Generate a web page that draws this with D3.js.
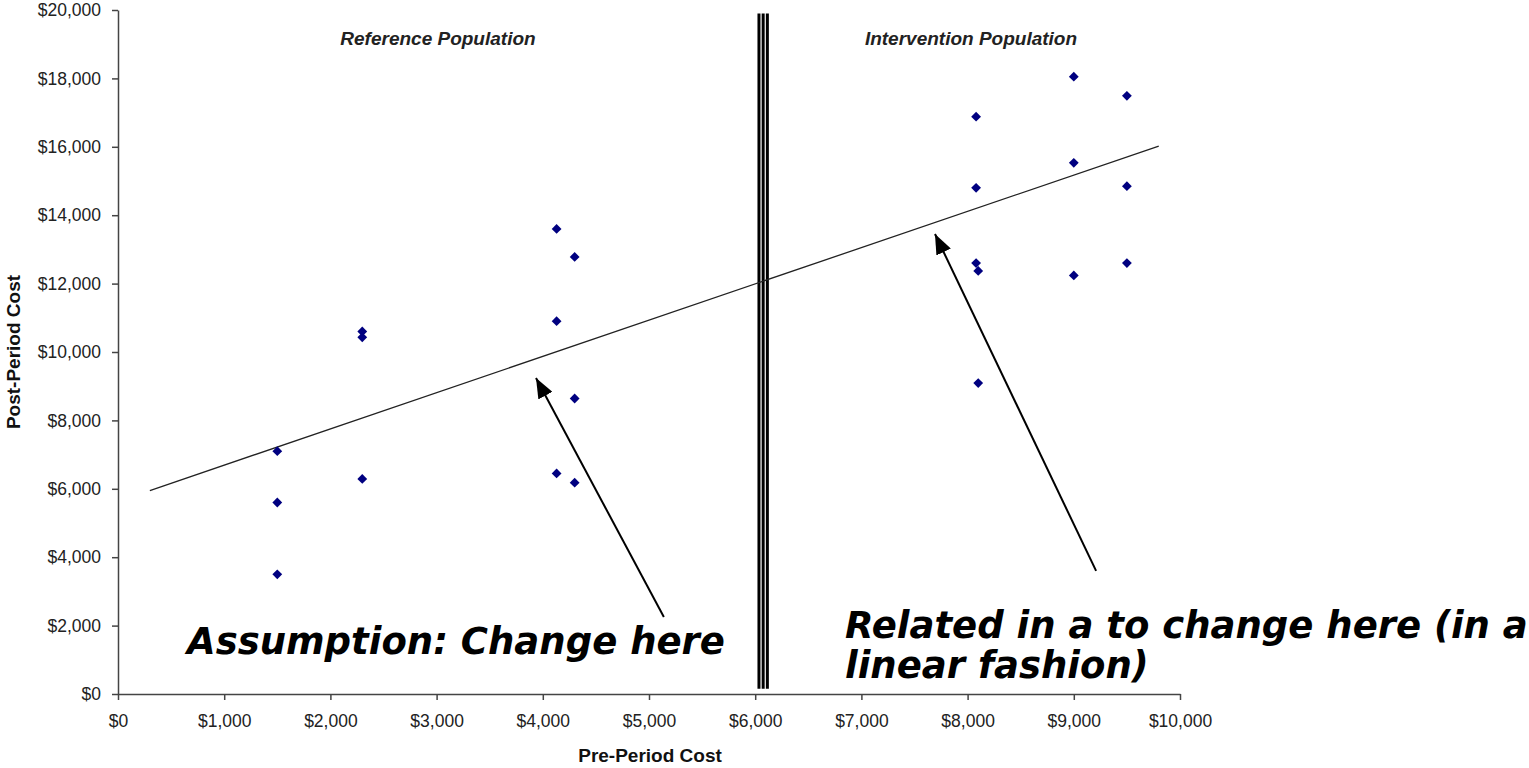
<!DOCTYPE html>
<html>
<head>
<meta charset="utf-8">
<script src="https://cdn.jsdelivr.net/npm/d3@7"></script>
<style>
  body { margin: 0; background: #fff; }
  .axis text { font-family: "Liberation Sans", Arial, sans-serif; font-size: 17.5px; fill: #222; }
  .axis path, .axis line { stroke: #444; stroke-width: 1.5px; }
</style>
</head>
<body>
<script>
// data //
const refPre  = [1500, 1500, 1500, 2300, 2300, 2300, 4130, 4130, 4130, 4300, 4300, 4300];
const refPost = [7100, 5600, 3500, 10600, 10430, 6290, 13600, 10900, 6450, 12780, 8640, 6180];

const intPre  = [8080, 8080, 8080, 8100, 8100, 9000, 9000, 9000, 9500, 9500, 9500];
const intPost = [16880, 14800, 12600, 12370, 9090, 18050, 15530, 12240, 17490, 14850, 12600];

const trendPre  = [300, 9800];
const trendPost = [5950, 16020];

const xTicks = [0, 1000, 2000, 3000, 4000, 5000, 6000, 7000, 8000, 9000, 10000];
const yTicks = [0, 2000, 4000, 6000, 8000, 10000, 12000, 14000, 16000, 18000, 20000];

const dividerPre = 6075;

const groupLabels = ["Reference Population", "Intervention Population"];
const groupLabelPre = [3013, 8032];

// arrows: [from pre, from post, to pre, to post]
const arrows = [
  [5140, 2250, 3936, 9240],
  [9210, 3600, 7693, 13450]
];

const width = 1529;
const height = 768;
const margin = { top: 10, right: 349, bottom: 74, left: 118 };

const x = d3.scaleLinear()
          .domain([0, 10000])
          .range([margin.left, width - margin.right]);

const y = d3.scaleLinear()
          .domain([0, 20000])
          .range([height - margin.bottom, margin.top]);

const svg = d3.select('body')
   .append('svg')
   .attr('width', width)
   .attr('height', height);

const money = d => '$' + d3.format(',')(d);

// axes
svg.append('g')
  .attr('class', 'axis')
  .attr('transform', 'translate(' + margin.left + ',0)')
  .call(d3.axisLeft(y).tickValues(yTicks).tickFormat(money).tickSize(6).tickSizeOuter(0).tickPadding(11));

svg.append('g')
  .attr('class', 'axis')
  .attr('transform', 'translate(0,' + (height - margin.bottom) + ')')
  .call(d3.axisBottom(x).tickValues(xTicks).tickFormat(money).tickSize(6).tickSizeOuter(0).tickPadding(15));

// axis titles
svg.append('text')
  .attr('x', 650)
  .attr('y', 762)
  .attr('text-anchor', 'middle')
  .style('font-family', '"Liberation Sans", Arial, sans-serif')
  .style('font-weight', 'bold')
  .style('font-size', '19px')
  .attr('fill', '#111')
  .text('Pre-Period Cost');

svg.append('text')
  .attr('transform', 'translate(20,' + y(10000) + ') rotate(-90)')
  .attr('text-anchor', 'middle')
  .style('font-family', '"Liberation Sans", Arial, sans-serif')
  .style('font-weight', 'bold')
  .style('font-size', '19px')
  .attr('fill', '#111')
  .text('Post-Period Cost');

// triple divider line
[-4.2, 0, 4.2].forEach(off => {
  svg.append('line')
    .attr('x1', x(dividerPre) + off)
    .attr('x2', x(dividerPre) + off)
    .attr('y1', y(19900))
    .attr('y2', y(150))
    .attr('stroke', '#000')
    .attr('stroke-width', 3);
});

// group labels
svg.selectAll('.group-label')
  .data(groupLabels)
  .enter().append('text')
  .attr('class', 'group-label')
  .attr('x', (d, i) => x(groupLabelPre[i]))
  .attr('y', 45)
  .attr('text-anchor', 'middle')
  .style('font-family', '"Liberation Sans", Arial, sans-serif')
  .style('font-weight', 'bold')
  .style('font-style', 'italic')
  .style('font-size', '19px')
  .attr('fill', '#222')
  .text(d => d);

// trend line
const trend = trendPre.map((p, i) => ({ pre: p, post: trendPost[i] }));
svg.append('path')
  .datum(trend)
  .attr('fill', 'none')
  .attr('stroke', '#222')
  .attr('stroke-width', 1.3)
  .attr('d', d3.line().x(d => x(d.pre)).y(d => y(d.post)));

// points
const points = refPre.map((p, i) => ({ pre: p, post: refPost[i] }))
  .concat(intPre.map((p, i) => ({ pre: p, post: intPost[i] })));

const diamond = d3.symbol().type(d3.symbolSquare).size(48);
svg.selectAll('.pt')
  .data(points)
  .enter().append('path')
  .attr('class', 'pt')
  .attr('d', diamond)
  .attr('transform', d => 'translate(' + x(d.pre) + ',' + y(d.post) + ') rotate(45)')
  .attr('fill', '#000080');

// arrows
svg.append('defs').append('marker')
  .attr('id', 'head')
  .attr('viewBox', '0 0 20 16')
  .attr('refX', 20)
  .attr('refY', 8)
  .attr('markerWidth', 20)
  .attr('markerHeight', 16)
  .attr('markerUnits', 'userSpaceOnUse')
  .attr('orient', 'auto')
  .append('path')
  .attr('d', 'M0,0L20,8L0,16Z')
  .attr('fill', '#000');

svg.selectAll('.arrow')
  .data(arrows)
  .enter().append('line')
  .attr('class', 'arrow')
  .attr('x1', d => x(d[0]))
  .attr('y1', d => y(d[1]))
  .attr('x2', d => x(d[2]))
  .attr('y2', d => y(d[3]))
  .attr('stroke', '#000')
  .attr('stroke-width', 2)
  .attr('marker-end', 'url(#head)');

// big annotations
const bigFont = '"DejaVu Sans", Verdana, sans-serif';
svg.append('text')
  .attr('x', 187)
  .attr('y', 654)
  .style('font-family', bigFont)
  .style('font-weight', 'bold')
  .style('font-style', 'italic')
  .style('font-size', '37px')
  .attr('fill', '#000')
  .text('Assumption: Change here');

svg.append('text')
  .attr('x', 845)
  .attr('y', 638)
  .style('font-family', bigFont)
  .style('font-weight', 'bold')
  .style('font-style', 'italic')
  .style('font-size', '37px')
  .attr('fill', '#000')
  .text('Related in a to change here (in a');

svg.append('text')
  .attr('x', 845)
  .attr('y', 678)
  .style('font-family', bigFont)
  .style('font-weight', 'bold')
  .style('font-style', 'italic')
  .style('font-size', '37px')
  .attr('fill', '#000')
  .text('linear fashion)');
</script>
</body>
</html>
